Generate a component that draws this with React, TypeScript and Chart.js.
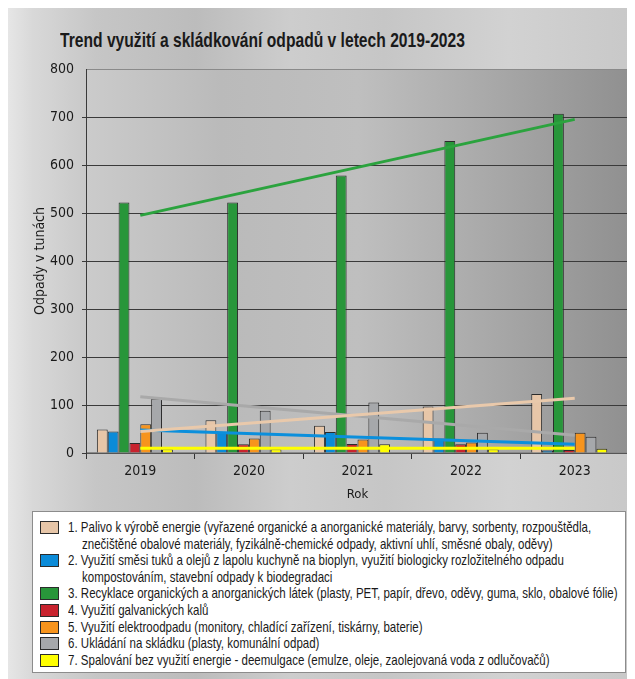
import React, { useEffect, useLayoutEffect, useRef } from 'react';
import { Chart, registerables } from 'chart.js';

Chart.register(...registerables);

const CANVAS_FONT = "'DejaVu Sans', sans-serif";
const HTML_FONT = "'Liberation Sans', Arial, sans-serif";

const years = ['2019', '2020', '2021', '2022', '2023'];
const yTicks = [0, 100, 200, 300, 400, 500, 600, 700, 800];

const palivo = [49, 68, 57, 97, 123];
const bioplyn = [45, 44, 44, 30, 5];
const recyklace = [522, 522, 578, 650, 707];
const galvanicke = [21, 18, 19, 18, 6];
const elektro = [60, 30, 28, 22, 42];
const skladka = [113, 88, 105, 42, 34];
const spalovani = [8, 8, 18, 8, 9];

// trend line end values (first year, last year)
const palivoTrend = [45, 114];
const bioplynTrend = [48, 18];
const recyklaceTrend = [495, 695];
const skladkaTrend = [117, 37];
const spalovaniTrend = [10, 10];

const seriesLabels = [
  '1. Palivo k výrobě energie (vyřazené organické a anorganické materiály, barvy, sorbenty, rozpouštědla,\nznečištěné obalové materiály, fyzikálně-chemické odpady, aktivní uhlí, směsné obaly, oděvy)',
  '2. Využití směsi tuků a olejů z lapolu kuchyně na bioplyn, využití biologicky rozložitelného odpadu\nkompostováním, stavební odpady k biodegradaci',
  '3. Recyklace organických a anorganických látek (plasty, PET, papír, dřevo, oděvy, guma, sklo, obalové fólie)',
  '4. Využití galvanických kalů',
  '5. Využití elektroodpadu (monitory, chladící zařízení, tiskárny, baterie)',
  '6. Ukládání na skládku (plasty, komunální odpad)',
  '7. Spalování bez využití energie - deemulgace (emulze, oleje, zaolejovaná voda z odlučovačů)',
];
const seriesColors = ['#e7c6a8', '#0b8bd8', '#28963a', '#c8232e', '#f7941d', '#a6a8ab', '#ffff00'];
const seriesData = [palivo, bioplyn, recyklace, galvanicke, elektro, skladka, spalovani];

const trendSeries = [
  { data: palivoTrend, color: '#e9c9ab' },
  { data: bioplynTrend, color: '#0b8fdc' },
  { data: recyklaceTrend, color: '#2ba33e' },
  { data: skladkaTrend, color: '#a9a9a9' },
  { data: spalovaniTrend, color: '#ffff00' },
];

const TITLE = 'Trend využití a skládkování odpadů v letech 2019-2023';

const plotBackground = {
  id: 'plotBackground',
  beforeDraw(chart: any) {
    const { ctx, chartArea } = chart;
    const { left, top, right, bottom } = chartArea;
    ctx.save();
    const g = ctx.createLinearGradient(left, 0, right, 0);
    g.addColorStop(0, '#cbcbcb');
    g.addColorStop(0.25, '#bababa');
    g.addColorStop(0.5, '#bfbfbf');
    g.addColorStop(0.75, '#a8a8a8');
    g.addColorStop(1, '#909090');
    ctx.fillStyle = g;
    ctx.fillRect(left, top, right - left, bottom - top);
    ctx.strokeStyle = '#8a8a8a';
    ctx.lineWidth = 1;
    ctx.strokeRect(left + 0.5, top + 0.5, right - left - 1, bottom - top - 1);
    ctx.restore();
  },
};

export default function App() {
  const canvasRef = useRef<HTMLCanvasElement | null>(null);
  const titleRef = useRef<HTMLSpanElement | null>(null);
  const legendRef = useRef<HTMLDivElement | null>(null);

  useLayoutEffect(() => {
    const t = titleRef.current;
    if (t) {
      const w = t.offsetWidth;
      if (w > 0) t.style.transform = `scaleX(${405 / w})`;
    }
    const lg = legendRef.current;
    if (lg) {
      const spans = Array.from(lg.querySelectorAll('span[data-line]')) as HTMLSpanElement[];
      const first = spans[0];
      if (first && first.offsetWidth > 0) {
        const k = 523 / first.offsetWidth;
        spans.forEach((s) => (s.style.transform = `scaleX(${k})`));
      }
    }
  }, []);

  useEffect(() => {
    if (!canvasRef.current) return;
    const barSets: any[] = seriesData.map((d, i) => ({
      type: 'bar',
      label: seriesLabels[i],
      data: d,
      backgroundColor: seriesColors[i],
      borderColor: '#2b2b2b',
      borderWidth: 1,
      order: 1,
    }));
    // empty spacer slot (the original groups leave one empty slot at the right)
    barSets.push({ type: 'bar', label: '', data: [], order: 1 });
    const lineSets: any[] = trendSeries.map((t) => ({
      type: 'line',
      label: 'trend',
      data: [
        { x: years[0], y: t.data[0] },
        { x: years[years.length - 1], y: t.data[1] },
      ],
      borderColor: t.color,
      borderWidth: 3,
      pointRadius: 0,
      fill: false,
      order: 0,
    }));

    const chart = new Chart(canvasRef.current, {
      type: 'bar',
      data: { labels: years, datasets: [...barSets, ...lineSets] },
      options: {
        responsive: false,
        animation: false,
        layout: { padding: { top: 61, right: 6, left: 0, bottom: 0 } },
        plugins: {
          legend: { display: false },
          title: { display: false },
          tooltip: { enabled: false },
        },
        datasets: { bar: { barPercentage: 1, categoryPercentage: 0.8 } },
        scales: {
          x: {
            grid: {
              offset: true,
              drawOnChartArea: false,
              drawTicks: true,
              tickLength: 6,
              color: '#333333',
            },
            border: { display: true, color: '#555555' },
            ticks: { color: '#1a1a1a', font: { family: CANVAS_FONT, size: 14, weight: 'condensed' }, padding: 4 },
            title: {
              display: true,
              text: 'Rok',
              color: '#1a1a1a',
              font: { family: CANVAS_FONT, size: 13, weight: 'condensed' },
              padding: { top: 0, bottom: 6 },
            },
            afterFit(scale: any) {
              scale.height = 55;
            },
          },
          y: {
            min: 0,
            max: 800,
            afterBuildTicks(scale: any) {
              scale.ticks = yTicks.map((v) => ({ value: v }));
            },
            grid: {
              color: (c: any) => (c.tick && c.tick.value === 800 ? 'rgba(0,0,0,0)' : '#3a3a3a'),
              tickLength: 4,
              drawTicks: true,
            },
            border: { display: true, color: '#3a3a3a' },
            ticks: { color: '#1a1a1a', font: { family: CANVAS_FONT, size: 14, weight: 'condensed' }, padding: 8 },
            title: {
              display: true,
              text: 'Odpady v tunách',
              color: '#1a1a1a',
              font: { family: CANVAS_FONT, size: 14, weight: 'condensed' },
              padding: { top: 24, bottom: 0 },
            },
            afterFit(scale: any) {
              scale.width = 78;
            },
          },
        },
      } as any,
      plugins: [plotBackground],
    });
    return () => chart.destroy();
  }, []);

  return (
    <div
      style={{
        position: 'relative',
        width: 627,
        height: 671,
        background:
          'linear-gradient(90deg, #e6e6e6 0%, #d8d8d8 4%, #c6c6c6 14%, #bcbcbc 30%, #cdcdcd 45%, #c6c6c6 60%, #d2d2d2 80%, #c8c8c8 100%)',
        fontFamily: HTML_FONT,
        overflow: 'hidden',
      }}
    >
      <div style={{ position: 'absolute', left: 52, top: 19, lineHeight: '26px', whiteSpace: 'nowrap' }}>
        <span
          ref={titleRef}
          style={{
            display: 'inline-block',
            fontSize: 21,
            fontWeight: 'bold',
            color: '#1a1a1a',
            transformOrigin: 'left center',
          }}
        >
          {TITLE}
        </span>
      </div>
      <canvas ref={canvasRef} width={627} height={500} style={{ position: 'absolute', left: 0, top: 0 }} />
      <div
        ref={legendRef}
        style={{
          position: 'absolute',
          left: 24,
          top: 503,
          width: 594,
          height: 162,
          background: '#ffffff',
          border: '1px solid #8c8c8c',
          boxSizing: 'border-box',
          paddingTop: 7,
          fontSize: 15,
          lineHeight: '16.6px',
          color: '#1a1a1a',
        }}
      >
        {seriesLabels.map((lab, i) => {
          const lines = lab.split('\n');
          return (
            <div key={i} style={{ position: 'relative', paddingLeft: 35, whiteSpace: 'nowrap' }}>
              <span
                style={{
                  position: 'absolute',
                  left: 7,
                  top: 2,
                  width: 17,
                  height: 11,
                  background: seriesColors[i],
                  border: '1px solid #2b2b2b',
                }}
              />
              {lines.map((ln, j) => (
                <div key={j} style={{ paddingLeft: j === 0 ? 0 : 14 }}>
                  <span data-line="1" style={{ display: 'inline-block', transformOrigin: 'left center' }}>
                    {ln}
                  </span>
                </div>
              ))}
            </div>
          );
        })}
      </div>
    </div>
  );
}
